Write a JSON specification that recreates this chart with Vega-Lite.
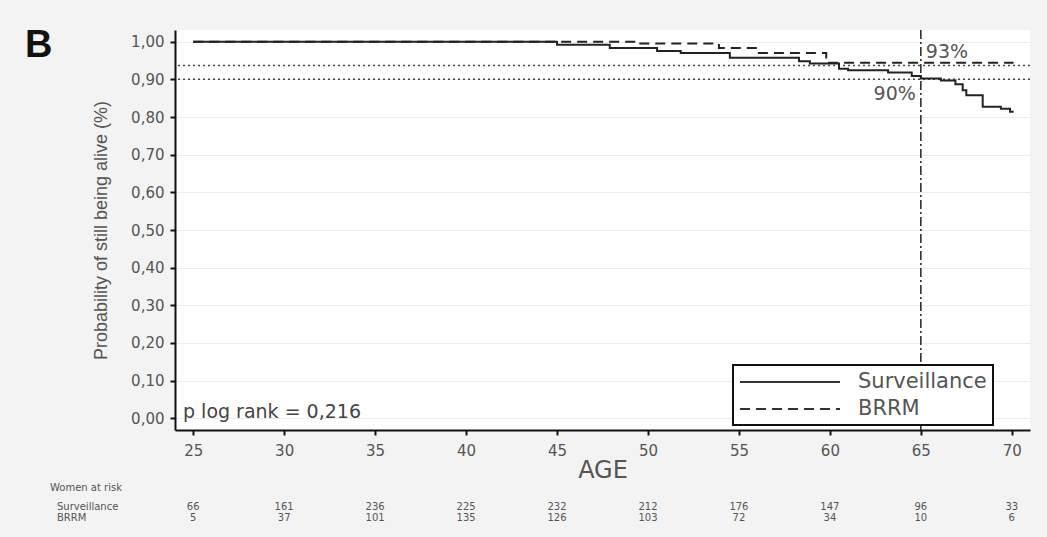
{
  "$schema": "https://vega.github.io/schema/vega-lite/v6.json",
  "autosize": {"type": "none"},
  "width": 855,
  "height": 400,
  "padding": {"left": 175, "top": 30, "right": 17, "bottom": 107},
  "background": "#f3f3f3",
  "config": {
    "view": {"fill": "white", "stroke": null},
    "axis": {"domainColor": "#111", "domainWidth": 2, "tickColor": "#111", "tickWidth": 2, "tickSize": 5, "labelColor": "#555", "titleColor": "#555", "titleFontWeight": "normal"}
  },
  "datasets": {
    "surv": [
      {"group": "Surveillance", "age": 25, "prob": 1.0},
      {"group": "Surveillance", "age": 45.0, "prob": 0.992},
      {"group": "Surveillance", "age": 47.9, "prob": 0.983},
      {"group": "Surveillance", "age": 50.5, "prob": 0.975},
      {"group": "Surveillance", "age": 51.8, "prob": 0.970},
      {"group": "Surveillance", "age": 54.5, "prob": 0.957},
      {"group": "Surveillance", "age": 58.3, "prob": 0.948},
      {"group": "Surveillance", "age": 58.9, "prob": 0.942},
      {"group": "Surveillance", "age": 60.5, "prob": 0.928},
      {"group": "Surveillance", "age": 61.0, "prob": 0.924},
      {"group": "Surveillance", "age": 63.2, "prob": 0.918},
      {"group": "Surveillance", "age": 64.5, "prob": 0.909},
      {"group": "Surveillance", "age": 65.0, "prob": 0.902},
      {"group": "Surveillance", "age": 66.1, "prob": 0.897},
      {"group": "Surveillance", "age": 66.9, "prob": 0.887},
      {"group": "Surveillance", "age": 67.3, "prob": 0.871},
      {"group": "Surveillance", "age": 67.5, "prob": 0.858},
      {"group": "Surveillance", "age": 68.4, "prob": 0.827},
      {"group": "Surveillance", "age": 69.4, "prob": 0.822},
      {"group": "Surveillance", "age": 69.9, "prob": 0.814},
      {"group": "Surveillance", "age": 70.1, "prob": 0.814},
      {"group": "BRRM", "age": 25, "prob": 1.0},
      {"group": "BRRM", "age": 49.5, "prob": 0.995},
      {"group": "BRRM", "age": 53.9, "prob": 0.983},
      {"group": "BRRM", "age": 56.0, "prob": 0.970},
      {"group": "BRRM", "age": 59.8, "prob": 0.944},
      {"group": "BRRM", "age": 70.1, "prob": 0.944}
    ],
    "risk": [
      {"group": "Surveillance", "age": 25, "n": 66},
      {"group": "Surveillance", "age": 30, "n": 161},
      {"group": "Surveillance", "age": 35, "n": 236},
      {"group": "Surveillance", "age": 40, "n": 225},
      {"group": "Surveillance", "age": 45, "n": 232},
      {"group": "Surveillance", "age": 50, "n": 212},
      {"group": "Surveillance", "age": 55, "n": 176},
      {"group": "Surveillance", "age": 60, "n": 147},
      {"group": "Surveillance", "age": 65, "n": 96},
      {"group": "Surveillance", "age": 70, "n": 33},
      {"group": "BRRM", "age": 25, "n": 5},
      {"group": "BRRM", "age": 30, "n": 37},
      {"group": "BRRM", "age": 35, "n": 101},
      {"group": "BRRM", "age": 40, "n": 135},
      {"group": "BRRM", "age": 45, "n": 126},
      {"group": "BRRM", "age": 50, "n": 103},
      {"group": "BRRM", "age": 55, "n": 72},
      {"group": "BRRM", "age": 60, "n": 34},
      {"group": "BRRM", "age": 65, "n": 10},
      {"group": "BRRM", "age": 70, "n": 6}
    ],
    "refs": [
      {"age": 65, "prob": 0.937, "label": "93%"},
      {"age": 65, "prob": 0.90, "label": "90%"}
    ]
  },
  "layer": [
    {
      "data": {"name": "refs"},
      "mark": {"type": "rule", "color": "#444", "strokeWidth": 1.5, "strokeDash": [2, 3]},
      "encoding": {
        "y": {"field": "prob", "type": "quantitative", "scale": {"domain": [-0.031, 1.031], "nice": false, "zero": false},
          "axis": {"values": [0, 0.1, 0.2, 0.3, 0.4, 0.5, 0.6, 0.7, 0.8, 0.9, 1.0], "tickCount": 11, "labelOverlap": false, "labelExpr": "replace(format(datum.value, '.2f'), '.', ',')", "labelFont": "DejaVu Sans", "labelFontSize": 15, "labelPadding": 6, "grid": true, "gridColor": "#ececec", "gridWidth": 1, "title": "Probability of still being alive (%)", "titleFont": "Liberation Sans", "titleFontSize": 18, "titlePadding": 20}}
      }
    },
    {
      "data": {"name": "refs"},
      "transform": [{"filter": "datum.label == '93%'"}],
      "mark": {"type": "rule", "color": "#222", "strokeWidth": 1.5, "strokeDash": [9, 3, 2, 3]},
      "encoding": {
        "x": {"field": "age", "type": "quantitative"}
      }
    },
    {
      "data": {"name": "surv"},
      "mark": {"type": "line", "interpolate": "step-after", "color": "#222", "strokeWidth": 2},
      "encoding": {
        "x": {"field": "age", "type": "quantitative", "scale": {"domain": [24, 71], "nice": false, "zero": false},
          "axis": {"values": [25, 30, 35, 40, 45, 50, 55, 60, 65, 70], "labelFont": "DejaVu Sans", "labelFontSize": 15, "labelPadding": 8, "grid": false, "title": "AGE", "titleFont": "DejaVu Sans", "titleFontSize": 24, "titlePadding": 0}},
        "y": {"field": "prob", "type": "quantitative",
          "axis": {"values": [0, 0.1, 0.2, 0.3, 0.4, 0.5, 0.6, 0.7, 0.8, 0.9, 1.0], "tickCount": 11, "labelOverlap": false, "labelExpr": "replace(format(datum.value, '.2f'), '.', ',')", "labelFont": "DejaVu Sans", "labelFontSize": 15, "labelPadding": 6, "grid": true, "gridColor": "#ececec", "gridWidth": 1, "title": "Probability of still being alive (%)", "titleFont": "Liberation Sans", "titleFontSize": 18, "titlePadding": 20}},
        "strokeDash": {"field": "group", "type": "nominal",
          "scale": {"domain": ["Surveillance", "BRRM"], "range": [[1, 0], [10, 6]]},
          "legend": {"orient": "none", "legendX": 558, "legendY": 335, "title": null, "symbolType": "M-1,0H9", "symbolSize": 400, "symbolStrokeWidth": 2, "symbolStrokeColor": "#333", "symbolFillColor": "transparent", "labelFont": "DejaVu Sans", "labelFontSize": 21, "labelColor": "#555", "labelOffset": 97, "labelLimit": 400, "rowPadding": 6, "padding": 6, "strokeColor": "#111", "fillColor": "white", "encode": {"legend": {"update": {"strokeWidth": {"value": 2}}}}}}
      }
    },
    {
      "data": {"name": "refs"},
      "transform": [{"filter": "datum.label == '93%'"}],
      "mark": {"type": "text", "align": "left", "baseline": "middle", "dx": 5, "dy": -13, "font": "DejaVu Sans", "fontSize": 19, "color": "#555"},
      "encoding": {"x": {"field": "age", "type": "quantitative"}, "y": {"field": "prob", "type": "quantitative"}, "text": {"field": "label"}}
    },
    {
      "data": {"name": "refs"},
      "transform": [{"filter": "datum.label == '90%'"}],
      "mark": {"type": "text", "align": "right", "baseline": "middle", "dx": -5, "dy": 15, "font": "DejaVu Sans", "fontSize": 19, "color": "#555"},
      "encoding": {"x": {"field": "age", "type": "quantitative"}, "y": {"field": "prob", "type": "quantitative"}, "text": {"field": "label"}}
    },
    {
      "data": {"values": [{}]},
      "mark": {"type": "text", "align": "left", "baseline": "alphabetic", "dx": 8, "font": "DejaVu Sans", "fontSize": 19, "color": "#444"},
      "encoding": {"x": {"datum": 24}, "y": {"datum": 0}, "text": {"value": "p log rank = 0,216"}}
    },
    {
      "data": {"values": [{}]},
      "mark": {"type": "text", "align": "left", "baseline": "middle", "dx": -150, "dy": 16, "font": "Liberation Sans", "fontWeight": "bold", "fontSize": 38, "color": "#111"},
      "encoding": {"x": {"datum": 24}, "y": {"datum": 1.031}, "text": {"value": "B"}}
    },
    {
      "data": {"values": [{}]},
      "mark": {"type": "text", "align": "left", "baseline": "middle", "dx": -125, "font": "DejaVu Sans", "fontSize": 10, "color": "#555"},
      "encoding": {"x": {"datum": 24}, "y": {"datum": -0.185}, "text": {"value": "Women at risk"}}
    },
    {
      "data": {"values": [{}]},
      "mark": {"type": "text", "align": "left", "baseline": "middle", "dx": -118, "font": "DejaVu Sans", "fontSize": 10, "color": "#555"},
      "encoding": {"x": {"datum": 24}, "y": {"datum": -0.2355}, "text": {"value": "Surveillance"}}
    },
    {
      "data": {"values": [{}]},
      "mark": {"type": "text", "align": "left", "baseline": "middle", "dx": -118, "font": "DejaVu Sans", "fontSize": 10, "color": "#555"},
      "encoding": {"x": {"datum": 24}, "y": {"datum": -0.265}, "text": {"value": "BRRM"}}
    },
    {
      "data": {"name": "risk"},
      "transform": [{"filter": "datum.group == 'Surveillance'"}],
      "mark": {"type": "text", "align": "center", "baseline": "middle", "font": "DejaVu Sans", "fontSize": 10, "color": "#555"},
      "encoding": {"x": {"field": "age", "type": "quantitative"}, "y": {"datum": -0.2355}, "text": {"field": "n", "type": "quantitative"}}
    },
    {
      "data": {"name": "risk"},
      "transform": [{"filter": "datum.group == 'BRRM'"}],
      "mark": {"type": "text", "align": "center", "baseline": "middle", "font": "DejaVu Sans", "fontSize": 10, "color": "#555"},
      "encoding": {"x": {"field": "age", "type": "quantitative"}, "y": {"datum": -0.265}, "text": {"field": "n", "type": "quantitative"}}
    }
  ]
}
